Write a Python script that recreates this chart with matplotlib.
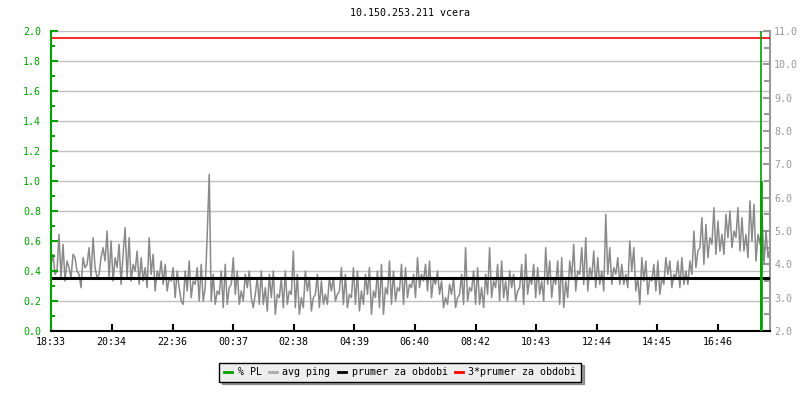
import numpy as np
import matplotlib
matplotlib.use('Agg')
import matplotlib.pyplot as plt
from matplotlib.ticker import MultipleLocator, FormatStrFormatter

title = '10.150.253.211 vcera'
tick_labels = ['18:33', '20:34', '22:36', '00:37', '02:38', '04:39',
               '06:40', '08:42', '10:43', '12:44', '14:45', '16:46']
span_min = 1438  # minutes shown on the x axis (one day)

# avg ping [ms], ~4 min per sample (one row ~ 2 hours)
ping = [
    4.0, 4.3, 3.7, 3.8, 4.9, 3.6, 4.6, 3.5, 4.1, 3.9, 3.6, 4.3, 4.2, 3.8, 3.7,
    3.3, 4.2, 3.9, 4.0, 4.5, 3.6, 4.8, 3.9, 3.6, 3.7, 4.2, 4.5, 4.1, 5.0, 3.6,
    4.7, 3.5, 4.2, 3.9, 4.6, 3.4, 4.3, 5.1, 3.6, 4.8, 3.5, 4.0, 3.8, 4.4, 3.4,
    4.2, 3.5, 3.9, 3.3, 4.8, 3.7, 4.3, 3.2, 3.8, 3.6, 4.1, 3.4, 4.0, 3.2, 3.6,
    3.5, 3.9, 3.0, 3.8, 3.3, 2.9, 2.8, 3.8, 3.2, 4.1, 3.0, 3.5, 3.4, 3.9, 2.9,
    4.0, 2.9, 3.3, 4.9, 6.7, 2.9, 3.7, 2.8, 3.2, 3.1, 3.8, 2.7, 4.0, 2.8, 3.3,
    3.4, 4.2, 3.1, 3.8, 2.8, 3.2, 2.9, 3.7, 3.3, 3.8, 3.0, 2.7, 3.1, 3.6, 2.8,
    3.8, 2.8, 3.3, 2.6, 3.7, 3.0, 3.8, 2.5, 3.1, 3.0, 3.6, 2.7, 3.8, 2.8, 3.2,
    3.1, 4.4, 2.7, 3.7, 2.5, 3.0, 2.7, 3.8, 3.2, 3.6, 2.6, 3.0, 3.1, 3.7, 2.7,
    3.5, 2.8, 3.1, 2.8, 3.6, 3.2, 3.6, 2.9, 3.1, 3.2, 3.9, 2.8, 3.7, 2.7, 3.1,
    3.0, 3.9, 2.8, 3.8, 2.6, 3.2, 2.8, 3.7, 3.1, 3.9, 2.5, 3.2, 3.0, 3.8, 2.7,
    4.0, 2.5, 3.3, 3.1, 4.1, 2.8, 3.8, 2.9, 3.3, 3.2, 4.0, 2.8, 3.9, 3.0, 3.4,
    3.3, 3.7, 3.0, 4.2, 3.3, 3.7, 3.5, 4.0, 3.2, 4.1, 3.0, 3.6, 3.4, 3.8, 3.1,
    3.5, 2.7, 3.0, 2.8, 3.4, 3.1, 3.6, 2.7, 3.0, 3.1, 3.7, 2.8, 4.5, 2.9, 3.3,
    3.2, 3.8, 2.8, 3.9, 2.8, 3.3, 2.7, 3.7, 3.1, 4.5, 3.0, 3.5, 3.3, 4.0, 2.9,
    4.1, 3.0, 3.5, 2.9, 3.8, 3.3, 3.7, 2.9, 3.2, 3.3, 4.0, 2.8, 4.3, 3.1, 3.6,
    3.4, 4.0, 3.0, 3.9, 3.1, 3.5, 2.9, 4.5, 3.4, 4.1, 3.0, 3.6, 3.4, 4.1, 2.8,
    4.2, 2.7, 3.5, 3.0, 4.1, 3.6, 4.6, 3.2, 3.8, 3.7, 4.5, 3.4, 4.8, 3.2, 3.9,
    3.6, 4.4, 3.3, 4.2, 3.4, 3.8, 3.2, 5.5, 3.7, 4.5, 3.4, 3.9, 3.7, 4.2, 3.4,
    4.0, 3.4, 3.7, 3.3, 4.7, 3.8, 4.5, 3.2, 3.6, 2.8, 4.2, 3.5, 4.1, 3.1, 3.6,
    3.5, 4.0, 3.2, 4.1, 3.1, 3.6, 3.4, 4.2, 3.7, 4.1, 3.3, 3.7, 3.6, 4.1, 3.3,
    4.2, 3.4, 3.8, 3.4, 4.1, 3.7, 5.0, 3.9, 4.4, 4.5, 5.4, 4.0, 5.2, 4.2, 4.8,
    4.6, 5.7, 4.3, 5.3, 4.4, 4.9, 4.3, 5.5, 4.8, 5.6, 4.5, 5.0, 4.8, 5.7, 4.4,
    5.4, 4.4, 4.9, 4.2, 5.9, 4.7, 5.8, 4.1, 4.9, 4.6, 5.5, 4.0, 5.0, 4.2, 4.5,
]
ping_mean = 3.6  # prumer za obdobi [ms]

# packet loss [%] - only nonzero near the end of the day
pl_min = [1419, 1420, 1421]
pl_val = [1.0, 2.5, 1.0]

green = '#00a000'
grey = '#999999'
plt.rcParams['font.family'] = 'DejaVu Sans Mono'
plt.rcParams['font.size'] = 7.2

# minutes since 18:33 for each tick label
def to_min(s):
    h, m = s.split(':')
    return (int(h) * 60 + int(m) - (18 * 60 + 33)) % 1440
tick_pos = [to_min(s) for s in tick_labels]

t = np.linspace(0, span_min, len(ping))

fig = plt.figure(figsize=(8, 4), dpi=100)
ax = fig.add_axes([51 / 800, 69 / 400, 719 / 800, 300 / 400])
ax2 = ax.twinx()

ax.set_xlim(0, span_min)
ax.set_ylim(0, 2.0)
ax2.set_ylim(2.0, 11.0)

# grid on the left scale
for v in np.arange(0.2, 2.01, 0.2):
    ax2.axhline(2 + 4.5 * v, color='#c0c0c0', lw=1, zorder=0)

ax2.plot(t, ping, color='#8a8a8a', lw=1.1, zorder=2)
ax2.axhline(ping_mean, color='black', lw=2.2, zorder=3)
ax2.axhline(3 * ping_mean, color='red', lw=1.2, zorder=3)
ax.vlines(pl_min, 0, pl_val, color=green, lw=1.2, zorder=4)
ax.set_zorder(ax2.get_zorder() + 1)
ax.patch.set_visible(False)

# left axis (PL)
ax.spines['left'].set_color(green)
ax.spines['top'].set_visible(False)
ax.spines['right'].set_visible(False)
ax.spines['bottom'].set_color('black')
ax.spines['bottom'].set_linewidth(1.5)
ax.spines['left'].set_linewidth(1.5)
ax.yaxis.set_major_locator(MultipleLocator(0.2))
ax.yaxis.set_minor_locator(MultipleLocator(0.1))
ax.tick_params(axis='y', which='both', direction='in', colors=green, width=1.5)
ax.tick_params(axis='y', which='major', length=5, pad=7)
ax.tick_params(axis='y', which='minor', length=3)
ax.yaxis.set_major_formatter(FormatStrFormatter('%.1f'))

ax.set_xticks(tick_pos)
ax.set_xticklabels(tick_labels)
ax.tick_params(axis='x', direction='in', length=5, width=1.5, pad=4, colors='black')

# right axis (ping)
for s in ['top', 'left', 'bottom']:
    ax2.spines[s].set_visible(False)
ax2.spines['right'].set_color(grey)
ax2.spines['right'].set_linewidth(1.5)
ax2.yaxis.set_major_locator(MultipleLocator(1.0))
ax2.yaxis.set_minor_locator(MultipleLocator(0.5))
ax2.tick_params(axis='y', which='both', direction='in', colors=grey, width=1.5)
ax2.tick_params(axis='y', which='major', length=5, pad=3)
ax2.tick_params(axis='y', which='minor', length=4)
ax2.yaxis.set_major_formatter(FormatStrFormatter('%.1f'))

fig.text(410 / 800, 1 - 13 / 400, title, ha='center', va='center')

handles = [plt.Line2D([], [], color=green, lw=2),
           plt.Line2D([], [], color='#aaaaaa', lw=2),
           plt.Line2D([], [], color='black', lw=2),
           plt.Line2D([], [], color='red', lw=2)]
labels = ['% PL', 'avg ping', 'prumer za obdobi', '3*prumer za obdobi']
leg = fig.legend(handles, labels, loc='center', bbox_to_anchor=(0.5, 1 - 372 / 400),
                 ncol=4, frameon=True, fancybox=False, shadow=True,
                 handlelength=0.8, handletextpad=0.6, columnspacing=0.7,
                 borderpad=0.45, fontsize=7.2)
leg.get_frame().set_facecolor('#eeeeee')
leg.get_frame().set_edgecolor('black')
leg.get_frame().set_alpha(1)

fig.savefig('out.png', dpi=100)
